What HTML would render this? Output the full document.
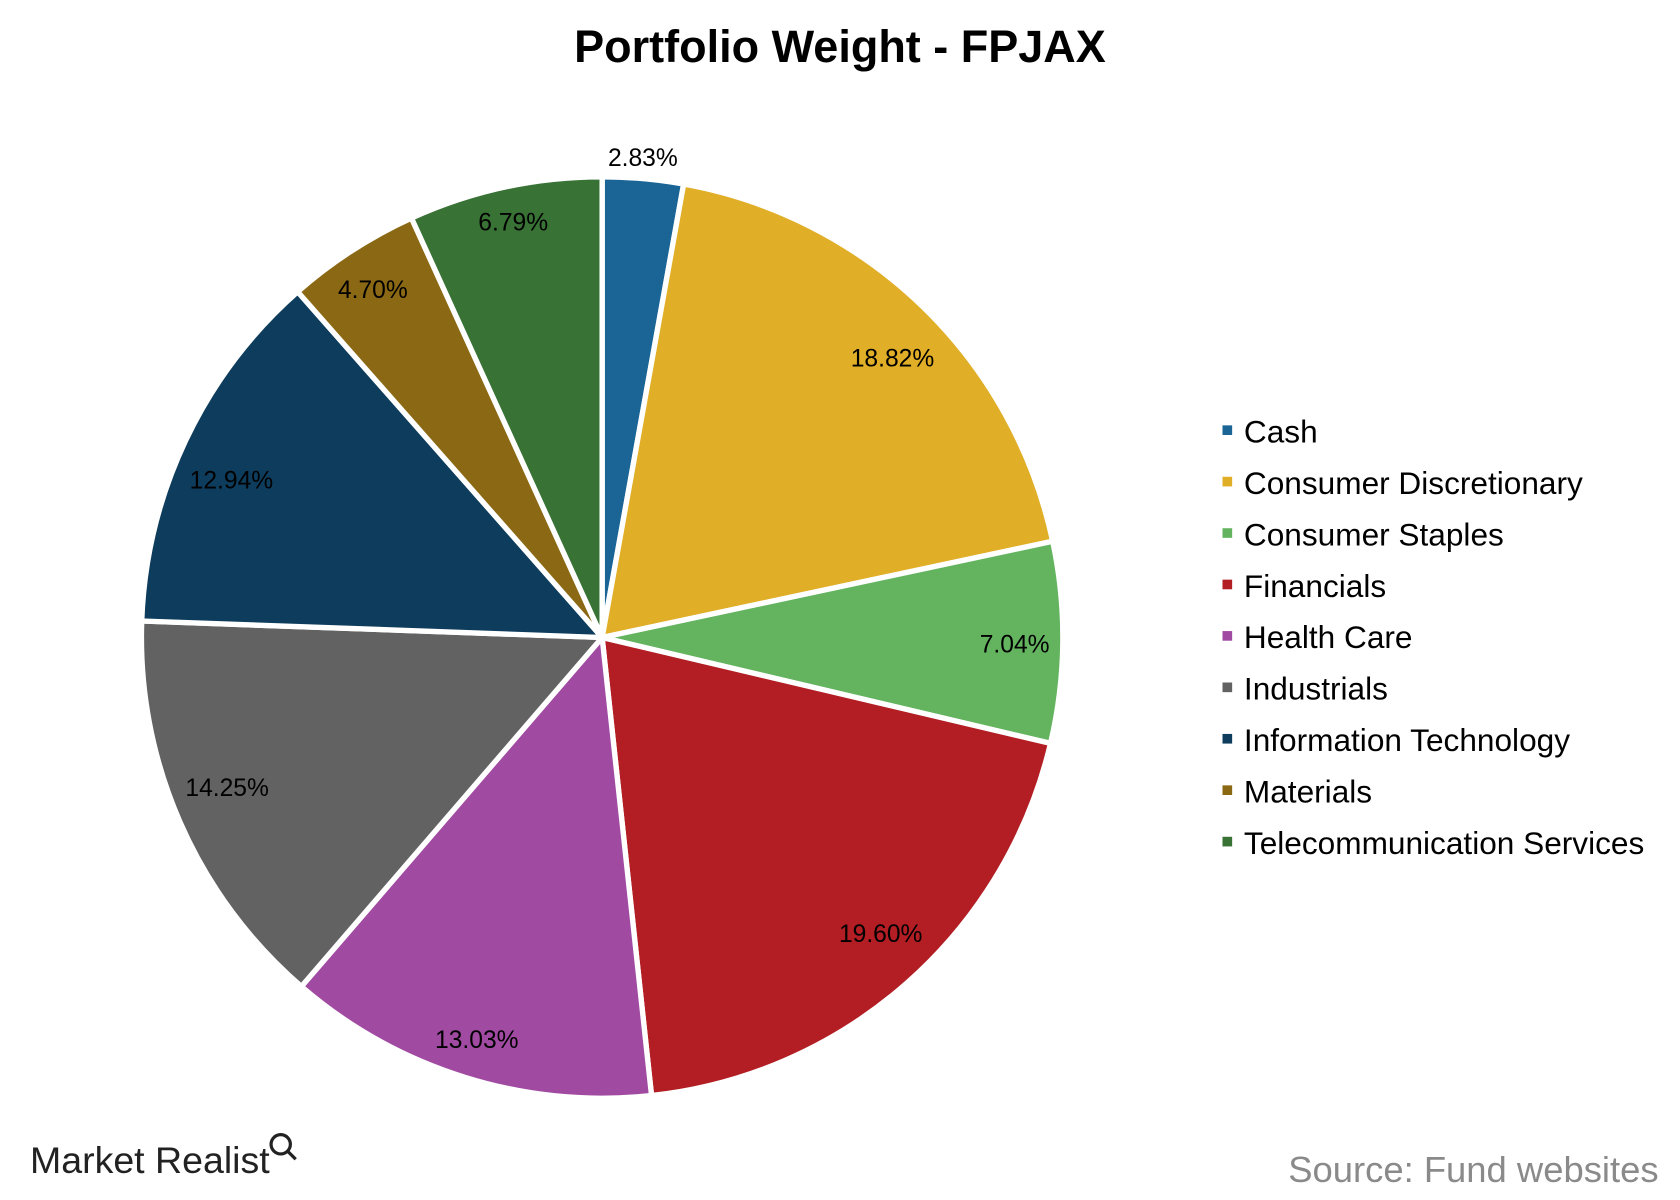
<!DOCTYPE html>
<html><head><meta charset="utf-8"><style>
html,body{margin:0;padding:0;background:#fff;}
svg{display:block;}
text{font-family:"Liberation Sans",Arial,sans-serif;}
</style></head><body>
<svg id="s" width="1680" height="1200" viewBox="0 0 1568 1120" xmlns="http://www.w3.org/2000/svg">
<rect width="1568" height="1120" fill="#fff"/>
<text x="784" y="58" font-size="42" font-weight="bold" text-anchor="middle" fill="#000">Portfolio Weight - FPJAX</text>
<g id="pie"></g>
<g font-size="23" fill="#000" text-anchor="middle">
<text x="600" y="155">2.83%</text>
<text x="833" y="342">18.82%</text>
<text x="947" y="609">7.04%</text>
<text x="822" y="879">19.60%</text>
<text x="445" y="978">13.03%</text>
<text x="212" y="743">14.25%</text>
<text x="216" y="456">12.94%</text>
<text x="348" y="278">4.70%</text>
<text x="479" y="215">6.79%</text>
</g>
<g id="leg" font-size="29.5" fill="#000"></g>
<text x="28" y="1095" font-size="35" fill="#222">Market Realist</text>
<circle cx="262" cy="1068" r="9" fill="none" stroke="#222" stroke-width="3"/>
<line x1="269" y1="1075" x2="276" y2="1082" stroke="#222" stroke-width="3"/>
<text x="1548" y="1103" font-size="34" fill="#8a8a8a" text-anchor="end">Source: Fund websites</text>
</svg>
<script>
var data=[["Cash",2.83,"#1a6496"],["Consumer Discretionary",18.82,"#e0ae27"],["Consumer Staples",7.04,"#63b35f"],["Financials",19.60,"#b21e23"],["Health Care",13.03,"#a04aa2"],["Industrials",14.25,"#626262"],["Information Technology",12.94,"#0e3c5c"],["Materials",4.70,"#8b6914"],["Telecommunication Services",6.79,"#387235"]];
var cx=562,cy=595,r=430,a=0,ns="http://www.w3.org/2000/svg",pie=document.getElementById("pie"),leg=document.getElementById("leg");
data.forEach(function(d,i){
 var a2=a+d[1]/100*2*Math.PI;
 var x1=cx+r*Math.sin(a),y1=cy-r*Math.cos(a),x2=cx+r*Math.sin(a2),y2=cy-r*Math.cos(a2);
 var p=document.createElementNS(ns,"path");
 p.setAttribute("d","M"+cx+","+cy+"L"+x1+","+y1+"A"+r+","+r+" 0 "+((a2-a)>Math.PI?1:0)+" 1 "+x2+","+y2+"Z");
 p.setAttribute("fill",d[2]);p.setAttribute("stroke","#fff");p.setAttribute("stroke-width","5");p.setAttribute("stroke-linejoin","round");
 pie.appendChild(p);a=a2;
 var y=403+i*48;
 var rc=document.createElementNS(ns,"rect");rc.setAttribute("x",1141);rc.setAttribute("y",y-6);rc.setAttribute("width",9);rc.setAttribute("height",9);rc.setAttribute("fill",d[2]);leg.appendChild(rc);
 var t=document.createElementNS(ns,"text");t.setAttribute("x",1161);t.setAttribute("y",y+10);t.textContent=d[0];leg.appendChild(t);
});
</script>
</body></html>
